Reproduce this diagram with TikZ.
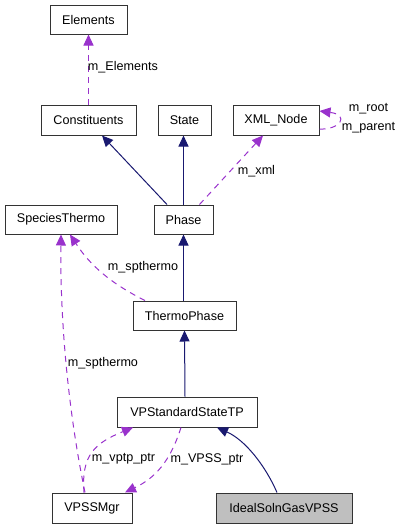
\documentclass[tikz,border=0pt]{standalone}
\usepackage{fontspec}
\setmainfont{Liberation Sans}
\usetikzlibrary{arrows.meta}
\definecolor{inh}{RGB}{25,25,112}
\definecolor{use}{RGB}{153,50,204}
\definecolor{boxgray}{RGB}{191,191,191}
\tikzset{
  cls/.style={draw=black!80, line width=1pt, fill=white, inner sep=0pt, font=\fontsize{12.6}{14}\selectfont},
  inhedge/.style={draw=inh, line width=1pt, -{Triangle[length=11pt,width=10pt]}},
  useedge/.style={draw=use, line width=1pt, dash pattern=on 6pt off 5pt, -{Triangle[length=11pt,width=10pt]}},
  lbl/.style={inner sep=0pt, font=\fontsize{12.6}{14}\selectfont}
}
\begin{document}
\begin{tikzpicture}[x=1pt,y=-1pt]
\useasboundingbox (0,0) rectangle (403,528);
\node[cls, minimum width=77pt, minimum height=29pt] (elements) at (88.5,19.5) {Elements};
\node[cls, minimum width=95pt, minimum height=30pt] (constituents) at (88.5,120) {Constituents};
\node[cls, minimum width=53pt, minimum height=30pt] (state) at (184.5,120) {State};
\node[cls, minimum width=86pt, minimum height=30pt] (xml) at (276,120) {XML\_Node};
\node[cls, minimum width=112pt, minimum height=29pt] (species) at (61,219.5) {SpeciesThermo};
\node[cls, minimum width=59pt, minimum height=29pt] (phase) at (183.5,219.5) {Phase};
\node[cls, minimum width=103pt, minimum height=29pt] (thermo) at (184.5,315.5) {ThermoPhase};
\node[cls, minimum width=140pt, minimum height=30pt] (vpstp) at (187,412) {VPStandardStateTP};
\node[cls, minimum width=80pt, minimum height=30pt] (vpssmgr) at (92,508) {VPSSMgr};
\node[cls, fill=boxgray, minimum width=136pt, minimum height=30pt] (ideal) at (284,508) {IdealSolnGasVPSS};

% inheritance
\draw[inhedge] ([xshift=-16.5pt]phase.north) -- ([xshift=13.5pt]constituents.south);
\draw[inhedge] (phase.north) -- (phase.north |- state.south);
\draw[inhedge] ([xshift=-1pt]thermo.north) -- (phase.south);
\draw[inhedge] ([xshift=-2pt]vpstp.north) -- (thermo.south);
\draw[inhedge] ([xshift=-7pt]ideal.north) .. controls (265,465) and (245,440) .. ([xshift=30pt]vpstp.south);

% usage
\draw[useedge] (constituents.north) -- (elements.south);
\node[lbl] (lElements) at (123,67) {m\_Elements};
\draw[useedge] ([xshift=16pt]phase.north) -- ([xshift=-13pt]xml.south);
\node[lbl] (lxml) at (256.5,171) {m\_xml};
\draw[useedge] ([yshift=-9pt]xml.east) .. controls (340,130) and (350,115) .. ([yshift=9pt]xml.east);
\node[lbl] (lroot) at (368.5,109) {m\_root};
\node[lbl] (lparent) at (368.5,128) {m\_parent};
\draw[useedge] ([xshift=-39.5pt]thermo.north) .. controls (110,283) and (90,265) .. ([xshift=9pt]species.south);
\node[lbl] (lsp1) at (143,267) {m\_spthermo};
\draw[useedge] ([xshift=-7pt]vpssmgr.north) .. controls (70,420) and (60,330) .. (species.south);
\node[lbl] (lsp2) at (103,363) {m\_spthermo};
\draw[useedge] ([xshift=-8pt]vpssmgr.north) .. controls (81,455) and (95,443) .. ([xshift=-54pt]vpstp.south);
\node[lbl] (lvptp) at (123.5,459) {m\_vptp\_ptr};
\draw[useedge] ([xshift=-6pt]vpstp.south) .. controls (170,462) and (155,478) .. ([xshift=33pt]vpssmgr.north);
\node[lbl] (lvpss) at (207,459) {m\_VPSS\_ptr};
\end{tikzpicture}
\end{document}
